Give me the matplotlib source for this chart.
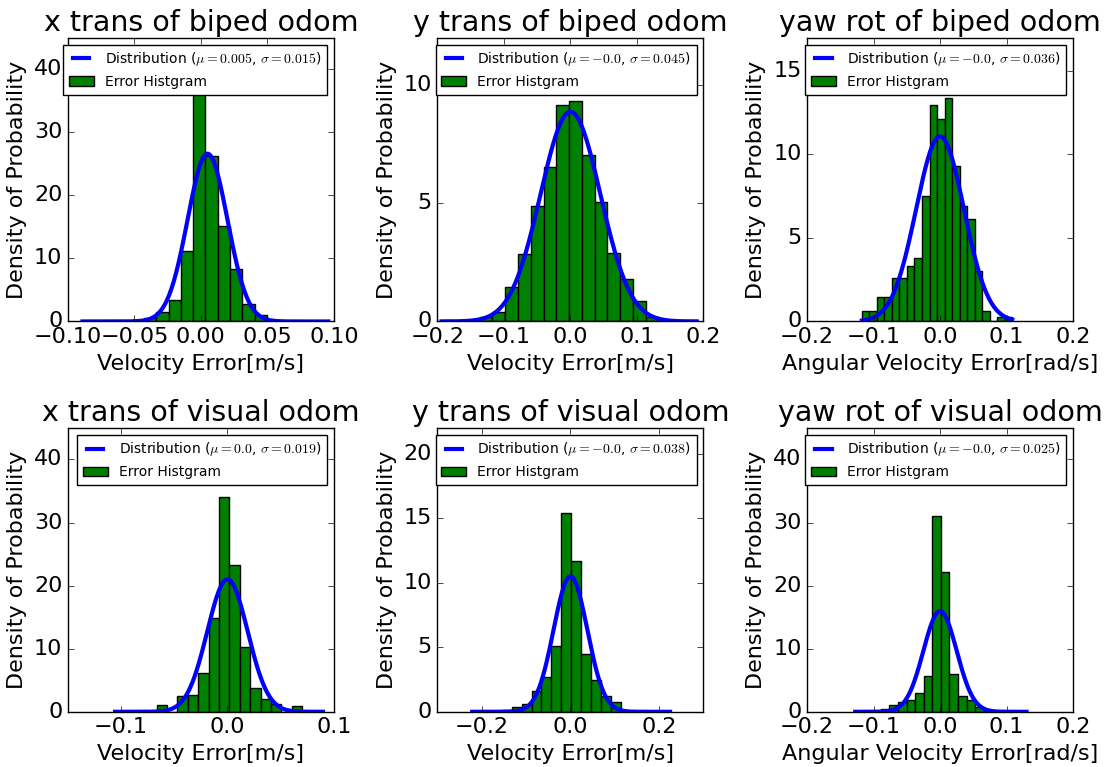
import matplotlib

matplotlib.use("Agg")
import matplotlib.pyplot as plt
import numpy as np

plt.style.use("classic")

titles = [
    "x trans of biped odom",
    "y trans of biped odom",
    "yaw rot of biped odom",
    "x trans of visual odom",
    "y trans of visual odom",
    "yaw rot of visual odom",
]
xlabels = [
    "Velocity Error[m/s]",
    "Velocity Error[m/s]",
    "Angular Velocity Error[rad/s]",
    "Velocity Error[m/s]",
    "Velocity Error[m/s]",
    "Angular Velocity Error[rad/s]",
]

# fitted normal distribution (as printed in the legends)
mu = [0.005, -0.0, -0.0, 0.0, -0.0, -0.0]
sigma = [0.015, 0.045, 0.036, 0.019, 0.038, 0.025]

# histogram range (20 bins) per panel
bin_lo = [-0.089, -0.194, -0.1175, -0.1056, -0.2215, -0.1275]
bin_hi = [0.0958, 0.190, 0.1085, 0.0897, 0.2246, 0.130]

# density per bin
density_x_biped = [0.1, 0, 0, 0, 0.3, 0.5, 1.5, 3.4, 11.2, 36.3,
                   26.3, 15.2, 8.3, 2.8, 1.1, 0, 0, 0, 0, 0.1]
density_y_biped = [0.05, 0, 0, 0.2, 0.4, 1.44, 2.87, 4.89, 6.55, 9.13,
                   9.34, 7.03, 5.06, 2.9, 1.79, 0.86, 0.17, 0, 0, 0.05]
density_yaw_biped = [0.64, 0.64, 1.44, 1.44, 2.63, 2.63, 3.33, 3.79, 7.49, 12.95,
                     12.1, 13.37, 9.28, 6.93, 6.13, 3.03, 0.64, 0, 0.24, 0.24]
density_x_visual = [0.1, 0, 0, 0, 1.06, 0, 2.5, 2.6, 6.1, 14.8,
                    34.0, 23.3, 10.3, 3.7, 1.95, 1.3, 0, 0.9, 0, 0.1]
density_y_visual = [0.05, 0, 0, 0.1, 0.34, 0.6, 1.6, 2.7, 5.1, 15.4,
                    11.65, 4.5, 2.5, 1.24, 0.78, 0, 0, 0, 0, 0.05]
density_yaw_visual = [0.1, 0, 0.2, 0.5, 1.06, 1.6, 1.85, 2.9, 5.65, 31.0,
                      22.2, 6.0, 2.5, 1.85, 0.7, 0.2, 0.1, 0.2, 0, 0.1]
densities = [
    density_x_biped,
    density_y_biped,
    density_yaw_biped,
    density_x_visual,
    density_y_visual,
    density_yaw_visual,
]

xlims = [(-0.1, 0.1), (-0.2, 0.2), (-0.2, 0.2), (-0.15, 0.1), (-0.3, 0.3), (-0.2, 0.2)]
xtick_steps = [0.05, 0.1, 0.1, 0.1, 0.2, 0.1]
ylims = [45, 12, 17, 45, 22, 45]
ytick_steps = [10, 5, 5, 10, 5, 10]

fig, axes = plt.subplots(2, 3, figsize=(11.12, 7.67), dpi=100)
fig.patch.set_facecolor("white")
fig.subplots_adjust(left=0.061, right=0.965, top=0.951, bottom=0.072,
                    wspace=0.389, hspace=0.375)

for i, ax in enumerate(axes.flat):
    edges = np.linspace(bin_lo[i], bin_hi[i], 21)
    _, _, bars = ax.hist(edges[:-1], bins=edges, weights=densities[i], color="g",
                         edgecolor="k", label="Error Histgram")
    xs = np.linspace(bin_lo[i], bin_hi[i], 200)
    pdf = np.exp(-0.5 * ((xs - mu[i]) / sigma[i]) ** 2) / (sigma[i] * np.sqrt(2 * np.pi))
    (line,) = ax.plot(xs, pdf, color="b", lw=3,
                      label=rf"Distribution ($\mu={mu[i]}$, $\sigma={sigma[i]}$)")

    lo, hi = xlims[i]
    step = xtick_steps[i]
    ticks = np.arange(np.ceil(lo / step - 1e-9), np.floor(hi / step + 1e-9) + 1) * step
    ax.set_xticks(ticks)
    ax.set_xlim(lo, hi)
    ax.set_ylim(0, ylims[i])
    ax.set_yticks(np.arange(0, ylims[i] + 0.01, ytick_steps[i]))
    ax.tick_params(labelsize=16)
    ax.set_title(titles[i], fontsize=20.5)
    ax.set_xlabel(xlabels[i], fontsize=16)
    ax.set_ylabel("Density of Probability", fontsize=16)
    ax.legend([line, bars], [line.get_label(), "Error Histgram"],
              loc="upper right", fontsize=10, handlelength=1.8)

fig.savefig("out.png", dpi=100, facecolor="white")
